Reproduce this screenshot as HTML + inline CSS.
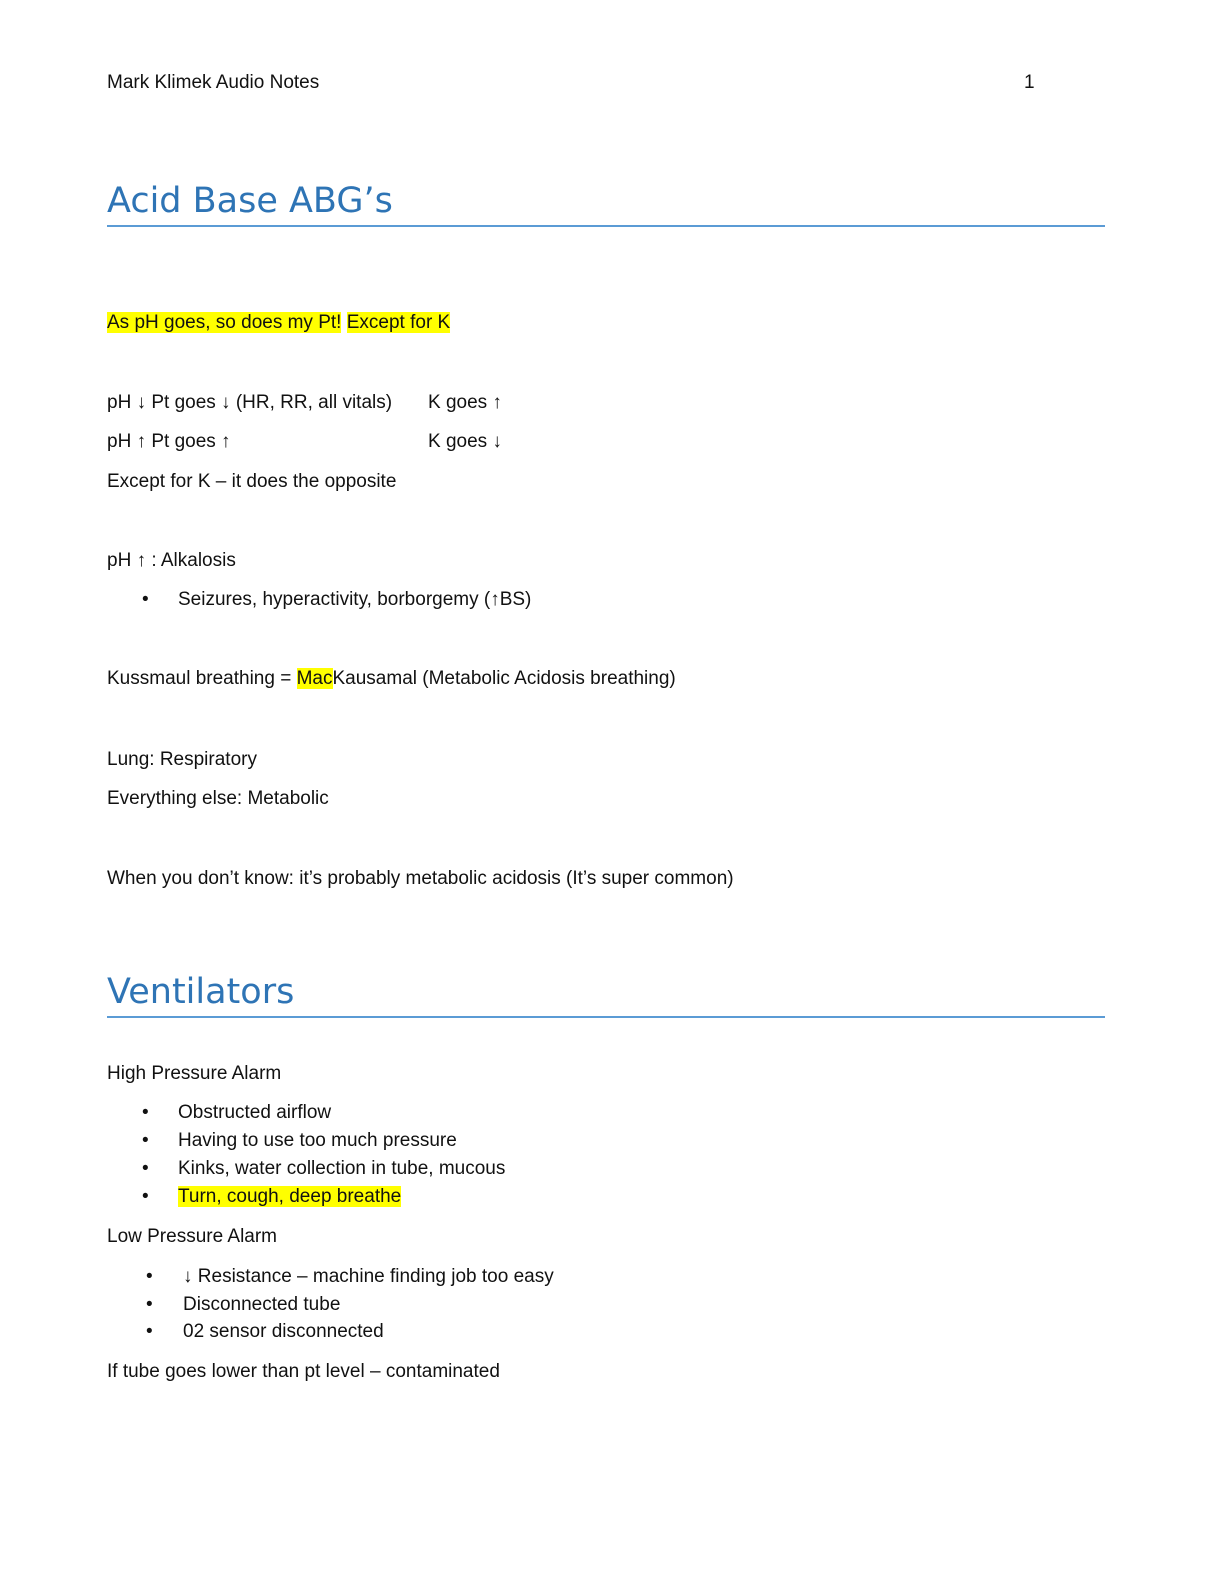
<!DOCTYPE html>
<html><head><meta charset="utf-8">
<style>
body{margin:0;width:1224px;height:1584px;background:#fff;position:relative;font-family:"Liberation Sans",sans-serif;color:#111;}
.t{position:absolute;left:107px;font-size:19px;line-height:22px;white-space:pre;}
.h{position:absolute;left:107px;font-family:"DejaVu Sans","Liberation Sans",sans-serif;font-size:35px;color:#2e74b5;line-height:40px;}
.rule{position:absolute;left:107px;width:998px;height:1.5px;background:#5b9bd5;}
.y{background:#ffff00;}
.b{position:absolute;left:142px;font-size:19px;line-height:22px;}
</style></head><body>
<div class="t" style="top:72px">Mark Klimek Audio Notes</div>
<div class="t" style="top:72px;left:1024px">1</div>

<div class="h" style="top:181px">Acid Base ABG’s</div>
<div class="rule" style="top:225px"></div>

<div class="t" style="top:312px"><span class="y">As pH goes, so does my Pt!</span> <span class="y">Except for K</span></div>
<div class="t" style="top:392px">pH ↓ Pt goes ↓ (HR, RR, all vitals)</div>
<div class="t" style="top:392px;left:428px">K goes ↑</div>
<div class="t" style="top:431px">pH ↑ Pt goes ↑</div>
<div class="t" style="top:431px;left:428px">K goes ↓</div>
<div class="t" style="top:471px">Except for K – it does the opposite</div>
<div class="t" style="top:550px">pH ↑ : Alkalosis</div>
<div class="b" style="top:589px">•</div>
<div class="t" style="top:589px;left:178px">Seizures, hyperactivity, borborgemy (↑BS)</div>
<div class="t" style="top:668px">Kussmaul breathing = <span class="y">Mac</span>Kausamal (Metabolic Acidosis breathing)</div>
<div class="t" style="top:749px">Lung: Respiratory</div>
<div class="t" style="top:788px">Everything else: Metabolic</div>
<div class="t" style="top:868px">When you don’t know: it’s probably metabolic acidosis (It’s super common)</div>

<div class="h" style="top:972px">Ventilators</div>
<div class="rule" style="top:1016px"></div>

<div class="t" style="top:1063px">High Pressure Alarm</div>
<div class="b" style="top:1102px">•</div><div class="t" style="top:1102px;left:178px">Obstructed airflow</div>
<div class="b" style="top:1130px">•</div><div class="t" style="top:1130px;left:178px">Having to use too much pressure</div>
<div class="b" style="top:1158px">•</div><div class="t" style="top:1158px;left:178px">Kinks, water collection in tube, mucous</div>
<div class="b" style="top:1186px">•</div><div class="t" style="top:1186px;left:178px"><span class="y">Turn, cough, deep breathe</span></div>
<div class="t" style="top:1226px">Low Pressure Alarm</div>
<div class="b" style="top:1266px;left:146px">•</div><div class="t" style="top:1266px;left:183px">↓ Resistance – machine finding job too easy</div>
<div class="b" style="top:1294px;left:146px">•</div><div class="t" style="top:1294px;left:183px">Disconnected tube</div>
<div class="b" style="top:1321px;left:146px">•</div><div class="t" style="top:1321px;left:183px">02 sensor disconnected</div>
<div class="t" style="top:1361px">If tube goes lower than pt level – contaminated</div>
</body></html>
